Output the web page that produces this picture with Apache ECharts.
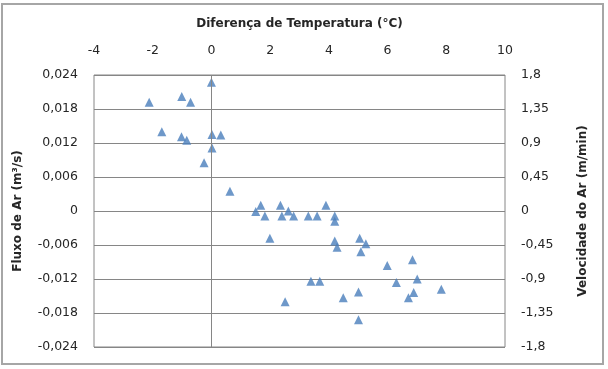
<!DOCTYPE html>
<html>
<head>
<meta charset="utf-8">
<script src="https://cdn.jsdelivr.net/npm/echarts@6/dist/echarts.min.js"></script>
<style>html,body{margin:0;padding:0;background:#fff}#c{width:608px;height:369px}</style>
</head>
<body>
<div id="c"></div>
<script>
var tempDiff = [0.00, -2.12, -1.01, -0.71, -1.69, -1.02, -0.84, 0.02, 0.32, 0.02, -0.25, 0.63,
  1.51, 1.68, 1.82, 2.35, 2.40, 2.62, 2.80, 3.30, 3.60, 3.90, 4.20, 4.20,
  1.99, 4.20, 4.28, 5.05, 5.26, 5.09, 5.99, 6.85,
  3.39, 3.69, 6.30, 7.01, 7.83, 6.89, 6.71, 5.01, 4.49, 2.51, 5.01];
var airFlow = [0.0227, 0.0192, 0.0202, 0.0192, 0.0140, 0.0131, 0.0125, 0.0135, 0.0134, 0.0111, 0.0085, 0.0035,
  -0.0001, 0.0010, -0.0009, 0.0010, -0.0009, 0.0000, -0.0009, -0.0009, -0.0009, 0.0010, -0.0009, -0.0018,
  -0.0048, -0.0053, -0.0064, -0.0048, -0.0058, -0.0072, -0.0096, -0.0086,
  -0.0124, -0.0124, -0.0126, -0.0120, -0.0138, -0.0144, -0.0153, -0.0143, -0.0153, -0.0160, -0.0192];
var xTitle = 'Diferença de Temperatura (°C)';
var yLeftTitle = 'Fluxo de Ar (m³/s)';
var yRightTitle = 'Velocidade do Ar (m/min)';

function fmt(v, d) {
  var r = Math.round(v * Math.pow(10, d)) / Math.pow(10, d);
  return String(r).replace('.', ',');
}
var pts = tempDiff.map(function (x, i) { return [x, airFlow[i]]; });
var font = 'DejaVu Sans';
var chart = echarts.init(document.getElementById('c'));
chart.setOption({
  animation: false,
  textStyle: { fontFamily: font },
  grid: { left: 94, right: 103, top: 75, bottom: 22, show: true, borderColor: '#868686', borderWidth: 1 },
  graphic: [{
    type: 'rect', shape: { x: 2, y: 4, width: 601, height: 360 },
    style: { fill: 'none', stroke: '#a6a6a6', lineWidth: 2 }, silent: true
  }],
  xAxis: {
    type: 'value', position: 'top', min: -4, max: 10, interval: 2,
    name: xTitle, nameLocation: 'middle', nameGap: 45,
    nameTextStyle: { fontWeight: 'bold', fontSize: 12, color: '#262626', fontFamily: font },
    axisLine: { show: false }, axisTick: { show: false }, splitLine: { show: false },
    axisLabel: { fontSize: 12.5, color: '#262626', margin: 18 }
  },
  yAxis: [{
    type: 'value', min: -0.024, max: 0.024, interval: 0.006,
    name: yLeftTitle, nameLocation: 'middle', nameGap: 70, nameRotate: 90,
    nameTextStyle: { fontWeight: 'bold', fontSize: 12, color: '#262626', fontFamily: font },
    axisLine: { show: false }, axisTick: { show: false },
    splitLine: { show: true, lineStyle: { color: '#868686', width: 1 } },
    axisLabel: { fontSize: 12.5, color: '#262626', margin: 16, formatter: function (v) { return fmt(v, 3); } }
  }, {
    type: 'value', min: -1.8, max: 1.8, interval: 0.45, position: 'right',
    name: yRightTitle, nameLocation: 'middle', nameGap: 72, nameRotate: 90,
    nameTextStyle: { fontWeight: 'bold', fontSize: 12, color: '#262626', fontFamily: font },
    axisLine: { show: false }, axisTick: { show: false }, splitLine: { show: false },
    axisLabel: { fontSize: 12.5, color: '#262626', margin: 16, formatter: function (v) { return fmt(v, 2); } }
  }],
  series: [{
    type: 'scatter', yAxisIndex: 0, data: pts, symbol: 'triangle', symbolSize: 9,
    itemStyle: { color: '#4a7ebb' },
    markLine: {
      silent: true, symbol: 'none', label: { show: false },
      lineStyle: { color: '#868686', width: 1, type: 'solid' },
      data: [{ xAxis: 0 }]
    }
  }]
});
</script>
</body>
</html>
